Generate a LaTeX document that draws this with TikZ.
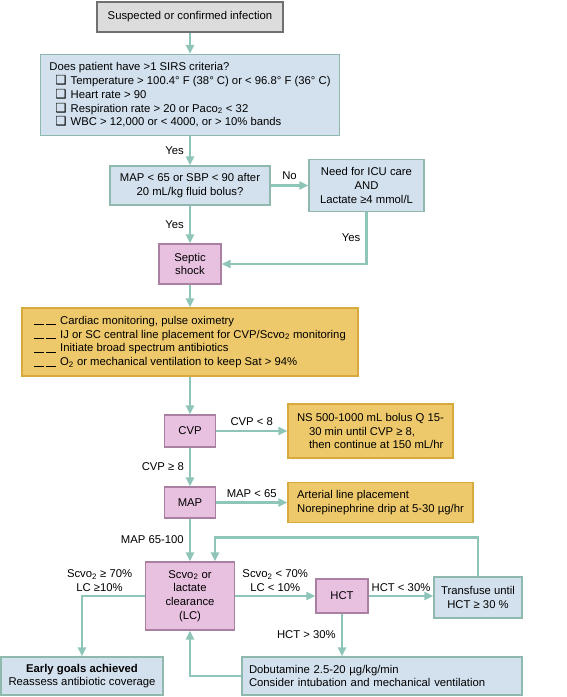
\documentclass[tikz,border=0pt]{standalone}
\usepackage{fontspec}
\setmainfont{Liberation Sans}
\newfontfamily\dejavu{DejaVu Sans}
\usetikzlibrary{arrows.meta}

\definecolor{greyfill}{HTML}{DCDCDC}
\definecolor{greyline}{HTML}{707070}
\definecolor{bluefill}{HTML}{D3E1EE}
\definecolor{blueline}{HTML}{8FB8AE}
\definecolor{pinkfill}{HTML}{E8C1E0}
\definecolor{pinkline}{HTML}{A97FA2}
\definecolor{goldfill}{HTML}{EEC96B}
\definecolor{goldline}{HTML}{D8A93C}
\definecolor{flowcol}{HTML}{8EC5B8}

\newcommand\fs{\fontsize{11.3}{13.7}\selectfont}
\newcommand\chk{\hspace*{6pt}{\dejavu\fontsize{12.5}{10}\selectfont ❑}\hspace{4pt}}
\newcommand\blank{\rule[-0.8pt]{10pt}{0.7pt}\hspace{2pt}\rule[-0.8pt]{10pt}{0.7pt}\hspace{4pt}}

\tikzset{
  base/.style={draw, line width=1.3pt, inner sep=0pt, font=\fs, align=center},
  grey box/.style={base, fill=greyfill, draw=greyline},
  blue box/.style={base, fill=bluefill, draw=blueline},
  pink box/.style={base, fill=pinkfill, draw=pinkline},
  gold box/.style={base, fill=goldfill, draw=goldline},
  flow/.style={line width=2.4pt, draw=flowcol, -{Triangle[length=9pt,width=8pt,fill=flowcol]}},
  lbl/.style={font=\fs, inner sep=1pt, align=center}
}

\begin{document}
\begin{tikzpicture}[x=1pt, y=-1pt]
  \useasboundingbox (0,0) rectangle (567,697);
  % Boxes:
  \node[grey box, minimum width=186pt, minimum height=30pt] (infect) at (190,17) {Suspected or confirmed infection};
  \node[blue box, minimum width=299pt, minimum height=81pt, align=left] (sirs) at (190,95) {Does patient have >1 SIRS criteria?\\
    \chk Temperature > 100.4° F (38° C) or < 96.8° F (36° C)\\
    \chk Heart rate > 90\\
    \chk Respiration rate > 20 or Paco\textsubscript{2} < 32\\
    \chk WBC > 12,000 or < 4000, or > 10\% bands};
  \node[blue box, minimum width=160pt, minimum height=39pt] (mapq) at (190,185.5) {MAP < 65 or SBP < 90 after\\20 mL/kg fluid bolus?};
  \node[blue box, minimum width=115pt, minimum height=52pt] (icu) at (366.5,185.5) {Need for ICU care\\AND\\Lactate ≥4 mmol/L};
  \node[pink box, minimum width=62pt, minimum height=40pt] (shock) at (190,264) {Septic\\shock};
  \node[gold box, minimum width=336pt, minimum height=68pt, align=left] (care) at (190,342) {\blank Cardiac monitoring, pulse oximetry\\
    \blank IJ or SC central line placement for CVP/Scvo\textsubscript{2} monitoring\\
    \blank Initiate broad spectrum antibiotics\\
    \blank O\textsubscript{2} or mechanical ventilation to keep Sat > 94\%};
  \node[pink box, minimum width=51pt, minimum height=32pt] (cvp) at (190,431) {CVP};
  \node[gold box, minimum width=165pt, minimum height=54pt, align=left] (bolus) at (370.5,431) {NS 500-1000 mL bolus Q 15-\\
    \hspace*{12pt}30 min until CVP ≥ 8,\\
    \hspace*{12pt}then continue at 150 mL/hr};
  \node[pink box, minimum width=51pt, minimum height=31pt] (map) at (190,502.5) {MAP};
  \node[gold box, minimum width=185pt, minimum height=40pt, align=left] (artline) at (380.5,502.5) {Arterial line placement\\Norepinephrine drip at 5-30 µg/hr};
  \node[pink box, minimum width=89pt, minimum height=68pt] (scvo) at (190,596) {Scvo\textsubscript{2} or\\lactate\\clearance\\(LC)};
  \node[pink box, minimum width=52pt, minimum height=34pt] (hct) at (342,596) {HCT};
  \node[blue box, minimum width=88pt, minimum height=41pt] (transfuse) at (478,597.5) {Transfuse until\\HCT ≥ 30 \%};
  \node[blue box, minimum width=280pt, minimum height=38pt, text width=266pt, align=left] (dobu) at (382,676) {Dobutamine 2.5-20 µg/kg/min\\Consider intubation and mechanical ventilation};
  \node[blue box, minimum width=162pt, minimum height=38pt] (goals) at (82,676) {\textbf{Early goals achieved}\\Reassess antibiotic coverage};
  % Connectors:
  \draw[flow] (infect) -- (sirs);
  \draw[flow] (sirs) -- node[lbl, left=4pt] {Yes} (mapq);
  \draw[flow] (mapq.east) -- node[lbl, above=4pt] {No} (mapq.east -| icu.west);
  \draw[flow] (mapq) -- node[lbl, left=4pt] {Yes} (shock);
  \draw[flow] (icu.south) |- node[lbl, left=4pt, pos=0.25] {Yes} (shock.east);
  \draw[flow] (shock) -- (care);
  \draw[flow] (care) -- (cvp);
  \draw[flow] (cvp.east) -- node[lbl, above=3pt] {CVP < 8} (cvp.east -| bolus.west);
  \draw[flow] (cvp) -- node[lbl, left=4pt] {CVP ≥ 8} (map);
  \draw[flow] (map.east) -- node[lbl, above=3pt] {MAP < 65} (map.east -| artline.west);
  \draw[flow] (map) -- node[lbl, left=4pt] {MAP 65-100} (scvo);
  \draw[flow] (scvo.east) -- node[lbl, above=2pt] {Scvo\textsubscript{2} < 70\%\\LC < 10\%} (scvo.east -| hct.west);
  \draw[flow] (hct.east) -- node[lbl, above=2pt] {HCT < 30\%} (hct.east -| transfuse.west);
  \draw[flow] (transfuse.north) -- ++(0,-39) -| ([xshift=25pt]scvo.north);
  \draw[flow] (hct.south) -- node[lbl, left=4pt] {HCT > 30\%} (hct.south |- dobu.north);
  \draw[flow] (dobu.west) -| (scvo.south);
  \draw[flow] (scvo.west) -| node[lbl, above=2pt, pos=0.36] {Scvo\textsubscript{2} ≥ 70\%\\LC ≥10\%} (goals.north);
\end{tikzpicture}
\end{document}
